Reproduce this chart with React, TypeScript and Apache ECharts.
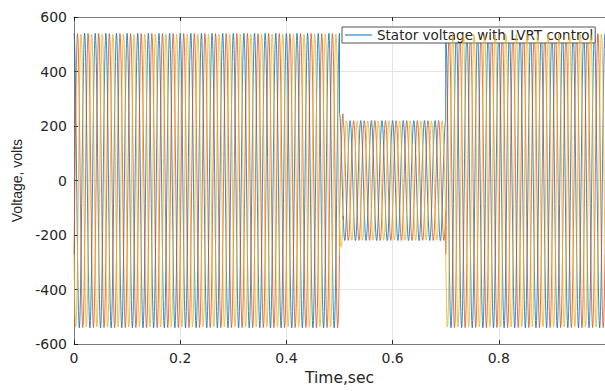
import React, { useEffect, useRef } from "react";
import * as echarts from "echarts";

// Waveform: three-phase stator voltage, 50 Hz,
// full amplitude before the sag, reduced amplitude during the sag (0.5 s - 0.7 s),
// with a short overshoot right at the fault instant.
const frequencyHz = 50;
const segmentStart = [0, 0.5, 0.507, 0.7];
const segmentEnd = [0.5, 0.507, 0.7, 1.0];
const segmentAmplitude = [540, 245, 220, 540];
const phaseShiftDeg = [0, -120, 120];
const phaseNames = ["Stator voltage with LVRT control", "Phase B", "Phase C"];
const phaseColors = ["#0072BD", "#D95319", "#EDB120"];
const sampleStep = 0.0005;

const xTickValues = [0, 0.2, 0.4, 0.6, 0.8, 1];
const yTickValues = [-600, -400, -200, 0, 200, 400, 600];

function buildPhase(shiftDeg: number): [number, number][] {
  const pts: [number, number][] = [];
  const shift = (shiftDeg * Math.PI) / 180;
  for (let s = 0; s < segmentStart.length; s++) {
    const n = Math.round((segmentEnd[s] - segmentStart[s]) / sampleStep);
    for (let i = 0; i <= n; i++) {
      const t = segmentStart[s] + i * sampleStep;
      pts.push([t, segmentAmplitude[s] * Math.cos(2 * Math.PI * frequencyHz * t + shift)]);
    }
  }
  return pts;
}

export default function App() {
  const ref = useRef<HTMLDivElement>(null);
  useEffect(() => {
    if (!ref.current) return;
    const chart = echarts.init(ref.current, undefined, { renderer: "svg" });
    const axisColor = "#7a7a7a";
    const textColor = "#262626";
    chart.setOption({
      animation: false,
      backgroundColor: "#ffffff",
      grid: { left: 74, right: -9, top: 17, bottom: 41 },
      legend: {
        data: [
          {
            name: phaseNames[0],
            itemStyle: { color: phaseColors[0], borderWidth: 0 },
          },
        ],
        left: 342,
        top: 27,
        padding: [1, 2, 1, 3],
        backgroundColor: "#ffffff",
        borderColor: "#555555",
        borderWidth: 1,
        icon: "rect",
        itemWidth: 27,
        itemHeight: 1,
        itemStyle: { color: phaseColors[0], borderWidth: 0 },
        textStyle: { fontFamily: "DejaVu Sans", fontSize: 13.5, color: textColor },
      },
      xAxis: [
        {
          type: "value",
          min: xTickValues[0],
          max: xTickValues[xTickValues.length - 1],
          interval: 0.2,
          name: "Time,sec",
          nameLocation: "middle",
          nameGap: 24,
          nameTextStyle: { fontFamily: "DejaVu Sans", fontSize: 15.5, color: textColor },
          axisLine: { show: true, onZero: false, lineStyle: { color: axisColor, width: 1 } },
          axisTick: { show: true, inside: true, length: 4, lineStyle: { color: textColor } },
          axisLabel: {
            margin: 7,
            fontFamily: "DejaVu Sans",
            fontSize: 14,
            color: textColor,
            showMaxLabel: false,
            formatter: (v: number) => String(Math.round(v * 10) / 10),
          },
          splitLine: { show: true, lineStyle: { color: "#e3e3e3", width: 1 } },
        },
        {
          type: "value",
          position: "top",
          min: xTickValues[0],
          max: xTickValues[xTickValues.length - 1],
          interval: 0.2,
          axisLine: { show: true, onZero: false, lineStyle: { color: axisColor, width: 1 } },
          axisTick: { show: true, inside: true, length: 4, lineStyle: { color: textColor } },
          axisLabel: { show: false },
          splitLine: { show: false },
        },
      ],
      yAxis: {
        type: "value",
        min: yTickValues[0],
        max: yTickValues[yTickValues.length - 1],
        interval: 200,
        name: "Voltage, volts",
        nameLocation: "middle",
        nameGap: 45,
        nameTextStyle: { fontFamily: "Liberation Sans", fontSize: 14, color: textColor },
        axisLine: { show: true, lineStyle: { color: axisColor, width: 1 } },
        axisTick: { show: true, inside: true, length: 4, lineStyle: { color: textColor } },
        axisLabel: { margin: 7, fontFamily: "DejaVu Sans", fontSize: 14, color: textColor },
        splitLine: { show: true, lineStyle: { color: "#e3e3e3", width: 1 } },
      },
      series: phaseShiftDeg.map((shift, i) => ({
        name: phaseNames[i],
        type: "line",
        xAxisIndex: 0,
        data: buildPhase(shift),
        symbol: "none",
        showSymbol: false,
        lineStyle: { color: phaseColors[i], width: 0.8 },
        itemStyle: { color: phaseColors[i] },
        z: 2 + i,
      })),
    });
    return () => chart.dispose();
  }, []);
  return (
    <div
      ref={ref}
      style={{ position: "fixed", left: 0, top: 0, width: 605, height: 391, background: "#fff" }}
    />
  );
}
